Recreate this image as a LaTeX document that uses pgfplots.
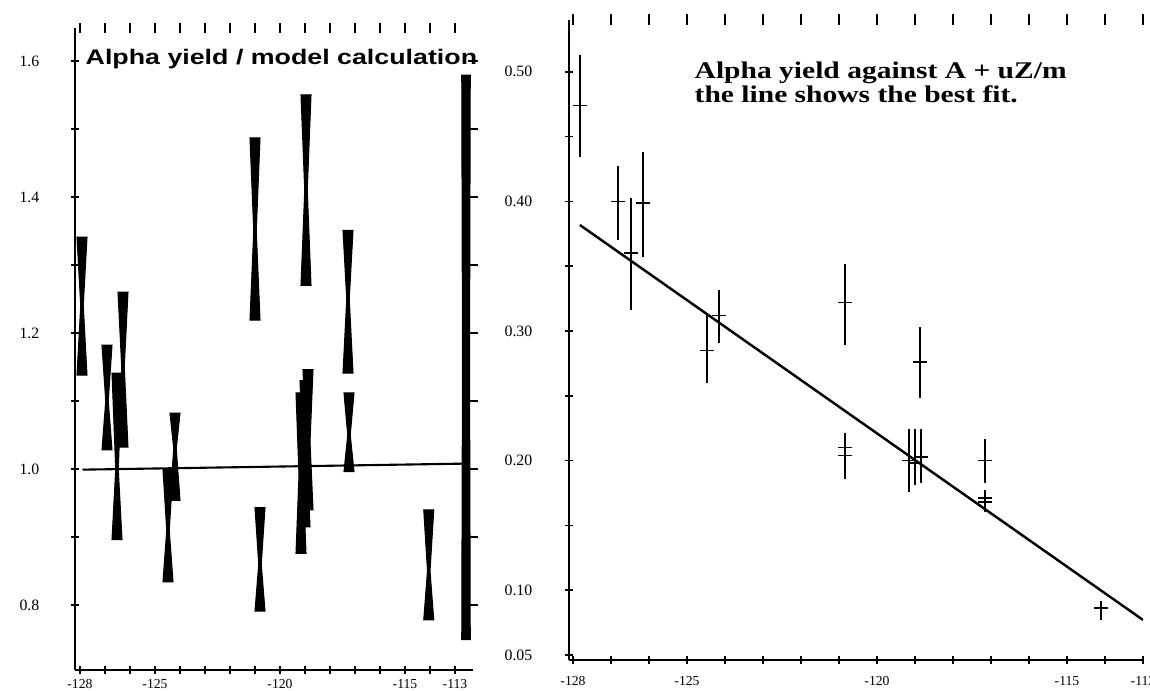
\documentclass[border=0pt]{standalone}
\usepackage{graphicx}
\usepackage{pgfplots}
\pgfplotsset{compat=1.18}
\usepackage{pgfplotstable}
\usepackage{fontspec}
\setmainfont{Liberation Serif}
\newfontfamily\sansf{Liberation Sans}

% right panel: alpha yield with error bars (x, y, lower, upper)
\pgfplotstableread{
x        y      lo     hi
-127.82  0.474  0.434  0.513
-126.81  0.400  0.370  0.427
-126.47  0.360  0.316  0.403
-126.15  0.399  0.357  0.438
-124.48  0.285  0.260  0.314
-124.16  0.312  0.291  0.332
-120.84  0.322  0.289  0.352
-120.84  0.210  0.186  0.221
-120.84  0.204  0.186  0.221
-118.87  0.276  0.248  0.303
-119.16  0.200  0.176  0.224
-119.00  0.198  0.181  0.224
-118.84  0.203  0.183  0.224
-117.16  0.200  0.183  0.217
-117.16  0.171  0.160  0.177
-117.16  0.168  0.160  0.177
-114.11  0.086  0.077  0.092
}\alphadata

% hourglass error bar: x, lower, middle, upper, half width, neck half width
\newcommand{\hg}[6]{%
  \pgfmathsetmacro\xa{#1-#5}\pgfmathsetmacro\xb{#1+#5}%
  \pgfmathsetmacro\xc{#1-#6}\pgfmathsetmacro\xd{#1+#6}%
  \edef\doit{\noexpand\addplot[black,fill=black,line width=0.3pt]
    coordinates {(\xa,#4) (\xb,#4) (\xd,#3) (\xb,#2) (\xa,#2) (\xc,#3)} -- cycle;}%
  \doit}

\newcommand{\xtl}{\fontsize{3.9}{5}\selectfont}
\newcommand{\ytl}{\fontsize{4.5}{5}\selectfont}

\pgfplotsset{
  base/.style={
    scale only axis, anchor=south west,
    axis line style={line width=0.45pt},
    tick style={line width=0.45pt, black},
    tick align=center,
    major tick length=0.08cm, minor tick length=0.08cm,
    xticklabel style={font=\xtl, inner sep=0pt, anchor=north},
    yticklabel style={font=\ytl, inner sep=0pt, anchor=east},
  },
  xlab/.style={
    xtick={-128,-125,-120,-115,-113},
    xticklabels={-128,-125,-120,-115,-113},
    minor xtick={-127,-126,-124,-123,-122,-121,-119,-118,-117,-116,-114},
  },
  tickonly/.style={
    axis line style={draw=none},
    xticklabels={}, yticklabels={},
  },
}

\begin{document}
\begin{tikzpicture}
\path[use as bounding box] (0,0) rectangle (11.5,6.91);

% ---------- left panel ----------
\begin{axis}[base, xlab,
  at={(0.75cm,0.21cm)}, width=3.975cm, height=6.42cm,
  xmin=-128.2, xmax=-112.3, ymin=0.7044, ymax=1.6485,
  axis lines*=left,
  ytick={0.8,1.0,1.2,1.4,1.6},
  yticklabels={0.8,1.0,1.2,1.4,1.6},
  minor ytick={0.9,1.1,1.3,1.5},
  xticklabel style={yshift=-0.05cm},
  yticklabel style={xshift=-0.31cm},
]
\addplot[black, line width=0.6pt] coordinates {(-127.9,0.999) (-112.4,1.008)};
\hg{-127.92}{1.138}{1.24}{1.341}{0.2}{0.05}
\hg{-126.92}{1.028}{1.10}{1.182}{0.2}{0.05}
\hg{-126.52}{0.896}{1.00}{1.141}{0.2}{0.05}
\hg{-126.28}{1.032}{1.15}{1.260}{0.2}{0.05}
\hg{-124.48}{0.834}{0.91}{0.999}{0.2}{0.05}
\hg{-124.20}{0.954}{1.03}{1.082}{0.2}{0.05}
\hg{-121.00}{1.219}{1.35}{1.487}{0.2}{0.05}
\hg{-120.80}{0.791}{0.86}{0.943}{0.2}{0.05}
\hg{-118.96}{1.270}{1.41}{1.550}{0.2}{0.05}
\hg{-119.16}{0.876}{0.99}{1.112}{0.2}{0.08}
\hg{-119.00}{0.915}{1.02}{1.130}{0.2}{0.08}
\hg{-118.88}{0.940}{1.04}{1.146}{0.2}{0.08}
\hg{-117.28}{1.141}{1.25}{1.351}{0.2}{0.05}
\hg{-117.24}{0.996}{1.05}{1.112}{0.2}{0.05}
\hg{-114.05}{0.778}{0.85}{0.940}{0.2}{0.05}
\hg{-112.56}{0.749}{1.16}{1.579}{0.17}{0.14}
\end{axis}
\begin{axis}[base, tickonly,
  at={(0.75cm,0.21cm)}, width=3.975cm, height=6.42cm,
  xmin=-128.2, xmax=-112.3, ymin=0.7044, ymax=1.6485,
  axis x line*=top, axis y line*=right,
  xtick={-128,...,-113},
  ytick={0.8,0.9,1.0,1.1,1.2,1.3,1.4,1.5,1.6},
  major tick length=0.1cm,
]
\end{axis}
\node[anchor=base west, inner sep=0pt] at (0.85,6.26)
  {\scalebox{1.27}[1]{\fontsize{6}{7}\selectfont\sansf\bfseries Alpha yield / model calculation}};

% ---------- right panel ----------
\begin{axis}[base, xlab,
  at={(5.69cm,0.31cm)}, width=5.74cm, height=6.40cm,
  xmin=-128.105, xmax=-113, ymin=0.0461, ymax=0.54,
  axis lines*=left,
  ytick={0.05,0.10,0.20,0.30,0.40,0.50},
  yticklabels={0.05,0.10,0.20,0.30,0.40,0.50},
  minor ytick={0.15,0.25,0.35,0.45},
  xticklabel style={yshift=-0.12cm},
  yticklabel style={xshift=-0.32cm},
]
\addplot[black, line width=0.7pt] coordinates {(-127.82,0.3818) (-113,0.077)};
\addplot[black, only marks, mark=+, mark size=2pt, mark options={line width=0.5pt},
  error bars/.cd, y dir=both, y explicit,
  error bar style={line width=0.55pt}, error mark=none]
  table[x=x, y=y, y error plus expr=\thisrow{hi}-\thisrow{y},
        y error minus expr=\thisrow{y}-\thisrow{lo}] {\alphadata};
\end{axis}
\begin{axis}[base, tickonly,
  at={(5.69cm,0.31cm)}, width=5.74cm, height=6.40cm,
  xmin=-128.105, xmax=-113, ymin=0.0461, ymax=0.54,
  axis x line*=top, axis y line=none,
  xtick={-128,...,-113},
  major tick length=0.11cm,
]
\end{axis}
\node[anchor=base west, inner sep=0pt] at (6.94,6.12)
  {\scalebox{1.235}[1]{\parbox[t]{4.2cm}{\fontsize{6.8}{6.8}\selectfont\bfseries
   \lineskiplimit=-10pt\raggedright Alpha yield against A + uZ/m\\the line shows the best fit.}}};
\end{tikzpicture}
\end{document}
